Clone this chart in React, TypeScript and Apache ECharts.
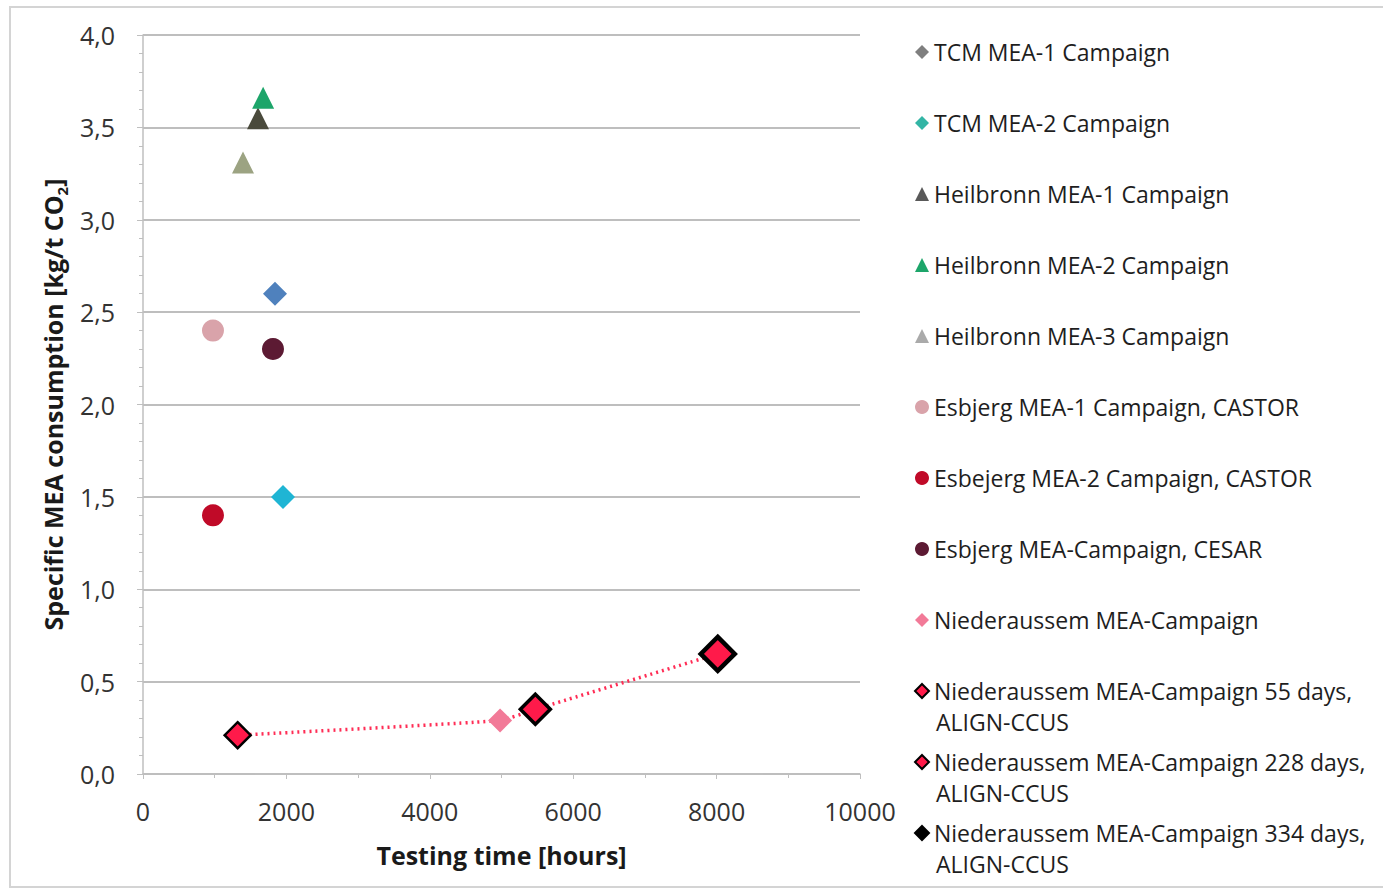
import React, { useEffect, useRef } from "react";
import * as echarts from "echarts";

const seriesNames = [
  "TCM MEA-1 Campaign",
  "TCM MEA-2 Campaign",
  "Heilbronn MEA-1 Campaign",
  "Heilbronn MEA-2 Campaign",
  "Heilbronn MEA-3 Campaign",
  "Esbjerg MEA-1 Campaign, CASTOR",
  "Esbejerg MEA-2 Campaign, CASTOR",
  "Esbjerg MEA-Campaign, CESAR",
  "Niederaussem MEA-Campaign",
  "Niederaussem MEA-Campaign 55 days,\nALIGN-CCUS",
  "Niederaussem MEA-Campaign 228 days,\nALIGN-CCUS",
  "Niederaussem MEA-Campaign 334 days,\nALIGN-CCUS",
];

// testing time [hours]
const hours = [1841, 1953, 1604, 1675, 1395, 976, 976, 1813, 4980, 1320, 5472, 8016];
// specific MEA consumption [kg/t CO2]
const consumption = [2.6, 1.5, 3.55, 3.66, 3.31, 2.4, 1.4, 2.3, 0.29, 0.21, 0.35, 0.65];

const xTicks = [0, 2000, 4000, 6000, 8000, 10000];
const yTicks = [0, 0.5, 1, 1.5, 2, 2.5, 3, 3.5, 4];

// indexes of the Niederaussem points joined by the dotted trend line
const trendIdx = [9, 8, 10, 11];

const symbols = ["diamond", "diamond", "triangle", "triangle", "triangle", "circle", "circle", "circle", "diamond", "diamond", "diamond", "diamond"];
const colors = ["#4f81bd", "#1fb5d4", "#4a4a3c", "#1da56a", "#9ca382", "#d9a3aa", "#c00a28", "#5c1a33", "#f27a98", "#ff1a4a", "#ff1a4a", "#ff1a4a"];
const legendColors = ["#7f7f7f", "#33b5a5", "#595959", "#1da56a", "#aaaaaa", "#d9a3aa", "#c00a28", "#5c1a33", "#f27a98", "#ff1a4a", "#ff1a4a", "#000000"];
const sizes = [24, 24, 22, 22, 22, 22, 22, 22, 24, 26, 30, 34];
const borders = [0, 0, 0, 0, 0, 0, 0, 0, 0, 2.5, 3.5, 4.5];

const FONT = "Open Sans";

export default function App() {
  const ref = useRef<HTMLDivElement>(null);

  useEffect(() => {
    if (!ref.current) return;
    const chart = echarts.init(ref.current, null, { renderer: "svg" });

    const scatter = seriesNames.map((name, i) => ({
      name,
      type: "scatter",
      symbol: symbols[i],
      symbolSize: sizes[i],
      z: 3,
      itemStyle: {
        color: colors[i],
        borderColor: borders[i] ? "#000" : colors[i],
        borderWidth: borders[i],
        opacity: 1,
      },
      data: [[hours[i], consumption[i]]],
    }));

    const trend = {
      name: "trend",
      type: "line",
      smooth: 0.15,
      symbol: "none",
      z: 2,
      lineStyle: { color: "#ff2d55", width: 3.5, type: [2, 4] },
      data: trendIdx.map((i) => [hours[i], consumption[i]]),
      silent: true,
    };

    const legendData = seriesNames.map((name, i) => ({
      name,
      icon: symbols[i],
      itemStyle: {
        color: legendColors[i],
        borderColor: i >= 9 ? "#000" : legendColors[i],
        borderWidth: i >= 9 ? 2 : 0,
      },
    }));

    const alignTexts = [9, 10, 11].map((k) => ({
      type: "text",
      left: 936,
      top: 52 + 71 * k + 19,
      style: { text: "ALIGN-CCUS", font: `23px "${FONT}"`, fill: "#1e1e1e" },
    }));

    chart.setOption({
      animation: false,
      backgroundColor: "#fff",
      grid: { left: 143, right: 523, top: 35, bottom: 119, containLabel: false },
      xAxis: {
        type: "value",
        min: xTicks[0],
        max: xTicks[xTicks.length - 1],
        interval: xTicks[1] - xTicks[0],
        name: "Testing time [hours]",
        nameLocation: "middle",
        nameGap: 68,
        nameTextStyle: { fontFamily: FONT, fontWeight: "bold", fontSize: 25, color: "#1a1a1a" },
        axisLine: { show: true, onZero: false, lineStyle: { color: "#bfbfbf", width: 1.5 } },
        axisTick: { show: true, length: 5, lineStyle: { color: "#bfbfbf" } },
        minorTick: { show: true, splitNumber: 2, length: 4, lineStyle: { color: "#bfbfbf" } },
        axisLabel: {
          fontFamily: FONT,
          fontSize: 25,
          color: "#333",
          margin: 24,
          formatter: (v: number) => String(v),
        },
        splitLine: { show: false },
      },
      yAxis: {
        type: "value",
        min: yTicks[0],
        max: yTicks[yTicks.length - 1],
        interval: yTicks[1] - yTicks[0],
        name: "Specific MEA consumption [kg/t CO{sub|2}]",
        nameLocation: "middle",
        nameGap: 72,
        nameTextStyle: {
          fontFamily: FONT,
          fontWeight: "bold",
          fontSize: 25,
          color: "#1a1a1a",
          lineHeight: 32,
          rich: {
            sub: { fontFamily: FONT, fontWeight: "bold", fontSize: 15, color: "#1a1a1a", verticalAlign: "bottom", lineHeight: 22 },
          },
        },
        axisLine: { show: true, lineStyle: { color: "#bfbfbf", width: 1.5 } },
        axisTick: { show: true, length: 6, lineStyle: { color: "#bfbfbf" } },
        minorTick: { show: true, splitNumber: 5, length: 4, lineStyle: { color: "#bfbfbf" } },
        axisLabel: {
          fontFamily: FONT,
          fontSize: 25,
          color: "#333",
          margin: 28,
          formatter: (v: number) => v.toFixed(1).replace(".", ","),
        },
        splitLine: { show: true, lineStyle: { color: "#a8a8a8", width: 1.5 } },
      },
      legend: {
        orient: "vertical",
        left: 914,
        top: 39,
        padding: 0,
        itemWidth: 14,
        itemHeight: 14,
        itemGap: 45,
        data: legendData,
        selectedMode: false,
        formatter: (name: string) => name.split("\n")[0],
        textStyle: { fontFamily: FONT, fontSize: 23, color: "#1e1e1e", lineHeight: 26 },
      },
      graphic: [
        {
          type: "rect",
          shape: { x: 10, y: 7, width: 1400, height: 880 },
          style: { fill: "none", stroke: "#d4d4d4", lineWidth: 2 },
          silent: true,
          z: -10,
        },
        ...alignTexts,
      ],
      series: [trend, ...scatter],
    });

    return () => chart.dispose();
  }, []);

  return (
    <div
      ref={ref}
      style={{ position: "fixed", left: 0, top: 0, width: 1383, height: 893, background: "#fff" }}
    />
  );
}
